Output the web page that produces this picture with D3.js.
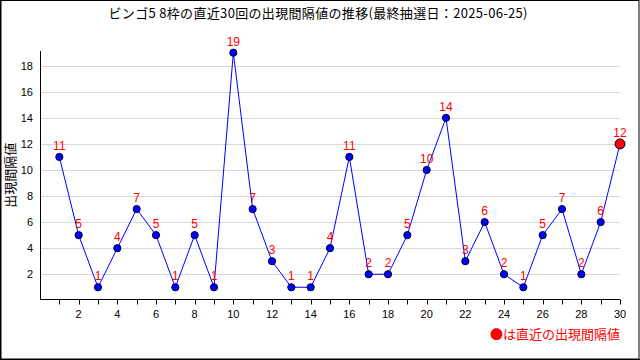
<!DOCTYPE html>
<html>
<head>
<meta charset="utf-8">
<script src="https://cdn.jsdelivr.net/npm/d3@7"></script>
<style>
  body { margin: 0; background: #fff; }
  svg { display: block; }
</style>
</head>
<body>
<div id="chart"></div>
<script>
// draw numbers 1..30 (most recent = 30) and the interval value of each
const draws = d3.range(1, 31);
const intervals = [11, 5, 1, 4, 7, 5, 1, 5, 1, 19, 7, 3, 1, 1, 4, 11, 2, 2, 5, 10, 14, 3, 6, 2, 1, 5, 7, 2, 6, 12];
const yTicks = [2, 4, 6, 8, 10, 12, 14, 16, 18];
const xTickLabels = [2, 4, 6, 8, 10, 12, 14, 16, 18, 20, 22, 24, 26, 28, 30];
const title = "ビンゴ5 8枠の直近30回の出現間隔値の推移(最終抽選日：2025-06-25)";
const yTitle = "出現間隔値";
const legendText = "●は直近の出現間隔値";

const width = 640, height = 360;
const margin = {left: 40, right: 20, top: 51, bottom: 61};
const jp = "'Noto Sans CJK JP', 'DejaVu Sans', sans-serif";
const num = "'Liberation Sans', 'DejaVu Sans', sans-serif";

const data = draws.map((d, i) => ({draw: d, value: intervals[i]}));

const svg = d3.select("#chart")
  .append("svg")
    .attr("width", width)
    .attr("height", height);

svg.append("rect")
  .attr("x", 0).attr("y", 0)
  .attr("width", width).attr("height", height)
  .attr("fill", "#fff");

const xScale = d3.scaleLinear()
  .domain([0, 30])
  .range([margin.left, width - margin.right]);

const yScale = d3.scaleLinear()
  .domain([0.1, 19.13])
  .range([height - margin.bottom, margin.top]);

// horizontal grid
svg.append("g")
  .selectAll("line")
  .data(yTicks)
  .enter()
  .append("line")
    .attr("x1", xScale(0))
    .attr("x2", xScale(30))
    .attr("y1", d => Math.round(yScale(d)) + 0.5)
    .attr("y2", d => Math.round(yScale(d)) + 0.5)
    .attr("stroke", "#d9d9d9")
    .attr("stroke-width", 1);

// y tick labels
svg.append("g")
  .selectAll("text")
  .data(yTicks)
  .enter()
  .append("text")
    .attr("x", margin.left - 7)
    .attr("y", d => yScale(d) + 4)
    .attr("text-anchor", "end")
    .style("font-family", num)
    .style("font-size", "11px")
    .attr("fill", "#000")
    .text(d => d);

// axis lines
const x0 = xScale(0), yBase = Math.round(yScale(0.1)) + 0.5;
svg.append("line")
  .attr("x1", Math.round(x0) + 0.5).attr("x2", Math.round(x0) + 0.5)
  .attr("y1", margin.top).attr("y2", yBase)
  .attr("stroke", "#000");
svg.append("line")
  .attr("x1", x0).attr("x2", xScale(30))
  .attr("y1", yBase).attr("y2", yBase)
  .attr("stroke", "#000");

// x tick marks at each draw
svg.append("g")
  .selectAll("line")
  .data(draws)
  .enter()
  .append("line")
    .attr("x1", d => Math.round(xScale(d)) + 0.5)
    .attr("x2", d => Math.round(xScale(d)) + 0.5)
    .attr("y1", yBase)
    .attr("y2", yBase + 5)
    .attr("stroke", "#000");

svg.append("g")
  .selectAll("text")
  .data(xTickLabels)
  .enter()
  .append("text")
    .attr("x", d => xScale(d))
    .attr("y", yBase + 18)
    .attr("text-anchor", "middle")
    .style("font-family", num)
    .style("font-size", "11px")
    .attr("fill", "#000")
    .text(d => d);

// the line
svg.append("path")
  .datum(data)
  .attr("fill", "none")
  .attr("stroke", "#0000ff")
  .attr("stroke-width", 1)
  .attr("d", d3.line()
    .x(d => xScale(d.draw))
    .y(d => yScale(d.value)));

// points
svg.append("g")
  .selectAll("circle")
  .data(data)
  .enter()
  .append("circle")
    .attr("cx", d => xScale(d.draw))
    .attr("cy", d => yScale(d.value))
    .attr("r", (d, i) => i === data.length - 1 ? 5 : 3.6)
    .attr("fill", (d, i) => i === data.length - 1 ? "#ff0000" : "#0000ff")
    .attr("stroke", "#000033")
    .attr("stroke-width", 1);

// value labels
svg.append("g")
  .selectAll("text")
  .data(data)
  .enter()
  .append("text")
    .attr("x", d => xScale(d.draw))
    .attr("y", d => yScale(d.value) - 7)
    .attr("text-anchor", "middle")
    .style("font-family", num)
    .style("font-size", "12px")
    .attr("fill", "#ff0000")
    .text(d => d.value);

// title
svg.append("text")
  .attr("x", width / 2 - 2)
  .attr("y", 18)
  .attr("text-anchor", "middle")
  .attr("textLength", 419)
  .attr("lengthAdjust", "spacing")
  .style("font-family", jp)
  .style("font-size", "13px")
  .attr("fill", "#000")
  .text(title);

// y axis title
svg.append("text")
  .attr("transform", `translate(15, ${(margin.top + yBase) / 2}) rotate(-90)`)
  .attr("text-anchor", "middle")
  .style("font-family", jp)
  .style("font-size", "13px")
  .attr("fill", "#000")
  .text(yTitle);

// legend
svg.append("text")
  .attr("x", width - margin.right)
  .attr("y", 339)
  .attr("text-anchor", "end")
  .style("font-family", jp)
  .style("font-size", "13px")
  .attr("fill", "#ff0000")
  .text(legendText);

// frame
svg.append("rect")
  .attr("x", 1).attr("y", 0.5)
  .attr("width", width - 2).attr("height", height - 1.5)
  .attr("fill", "none")
  .attr("stroke", "#000")
  .attr("stroke-width", 1);
svg.append("line")
  .attr("x1", 0.5).attr("x2", 0.5).attr("y1", 0).attr("y2", height)
  .attr("stroke", "#000");
svg.append("line")
  .attr("x1", 0).attr("x2", width).attr("y1", height - 0.5).attr("y2", height - 0.5)
  .attr("stroke", "#000");
</script>
</body>
</html>
